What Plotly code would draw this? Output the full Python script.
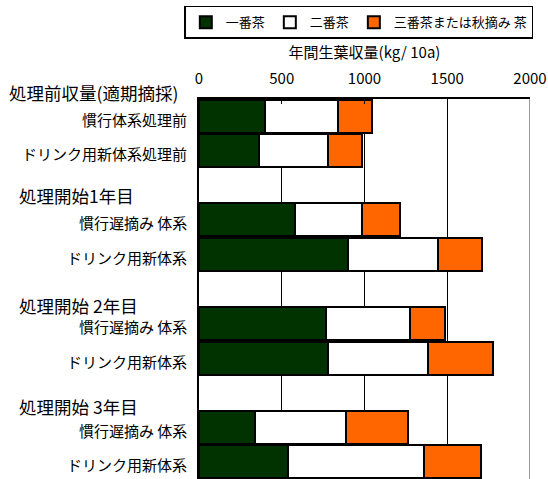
import plotly.graph_objects as go

# ---- data ----
group_headers = ["処理前収量(適期摘採)", "処理開始1年目", "処理開始 2年目", "処理開始 3年目"]
bar_labels = [
    ["慣行体系処理前", "ドリンク用新体系処理前"],
    ["慣行遅摘み 体系", "ドリンク用新体系"],
    ["慣行遅摘み 体系", "ドリンク用新体系"],
    ["慣行遅摘み 体系", "ドリンク用新体系"],
]
series_names = ["一番茶", "二番茶", "三番茶または秋摘み 茶"]
ichiban = [400, 365, 583, 900, 765, 778, 340, 535]
niban = [440, 413, 400, 545, 510, 607, 547, 826]
sanban = [205, 205, 233, 267, 210, 389, 375, 342]
series_values = [ichiban, niban, sanban]
colors = ["#003300", "#FFFFFF", "#FF6600"]
x_ticks = [0, 500, 1000, 1500, 2000]

# ---- row layout: header (spacer row except first), then two bars ----
rows = []          # row index for each bar
header_rows = []   # row index of first bar in each group
r = 0
for gi, labels in enumerate(bar_labels):
    if gi > 0:
        r += 1  # spacer row
    header_rows.append(r)
    for _ in labels:
        rows.append(r)
        r += 1
n_rows = r
flat_labels = [l for labels in bar_labels for l in labels]

FONT = "Noto Sans CJK JP, Noto Sans, sans-serif"

fig = go.Figure()
for name, vals, col in zip(series_names, series_values, colors):
    fig.add_trace(go.Bar(
        y=rows, x=vals, orientation="h", name=name,
        marker=dict(color=col, line=dict(color="black", width=2)),
    ))

annotations = []
for row, lab in zip(rows, flat_labels):
    annotations.append(dict(
        x=0, xref="paper", y=row, yref="y", text=lab, showarrow=False,
        xanchor="right", xshift=-10, yshift=-3,
        font=dict(size=15, color="black", family=FONT)))
header_xshift = [-192, -182, -182, -182]
header_yshift = [24, 24, 18, 21]
for hr, txt, xs, ys in zip(header_rows, group_headers, header_xshift, header_yshift):
    annotations.append(dict(
        x=0, xref="paper", y=hr, yref="y", text=txt, showarrow=False,
        xanchor="left", xshift=xs, yshift=ys,
        font=dict(size=17.5, color="black", family=FONT)))

fig.update_layout(
    barmode="stack",
    bargap=0.04,
    width=548, height=479,
    margin=dict(l=199, r=18, t=99, b=0, autoexpand=False),
    paper_bgcolor="white", plot_bgcolor="white",
    font=dict(family=FONT, color="black", size=15),
    showlegend=True,
    legend=dict(
        orientation="h", x=1.01, xanchor="right", y=1.245, yanchor="top",
        bordercolor="black", borderwidth=1.5, font=dict(size=13),
        itemwidth=30, traceorder="normal", tracegroupgap=0,
        bgcolor="rgba(255,255,255,0)",
    ),
    annotations=annotations,
    shapes=[dict(type="line", xref="x", yref="paper", x0=x_ticks[-1], x1=x_ticks[-1],
                 y0=0, y1=1, line=dict(color="#999999", width=2))],
)
fig.update_xaxes(
    side="top", range=[x_ticks[0], x_ticks[-1]], tickvals=x_ticks,
    showgrid=True, gridcolor="black", gridwidth=1,
    showline=True, linecolor="black", linewidth=2,
    ticks="inside", ticklen=5, tickcolor="black",
    tickfont=dict(size=15), zeroline=False, ticklabelstandoff=7,
    title=dict(text="年間生葉収量(kg/ 10a)", font=dict(size=15), standoff=5),
)
fig.update_yaxes(
    range=[n_rows - 0.5, -0.5], showticklabels=False, showgrid=False,
    showline=True, linecolor="black", linewidth=2, zeroline=False,
)
fig.write_html("out.html")
